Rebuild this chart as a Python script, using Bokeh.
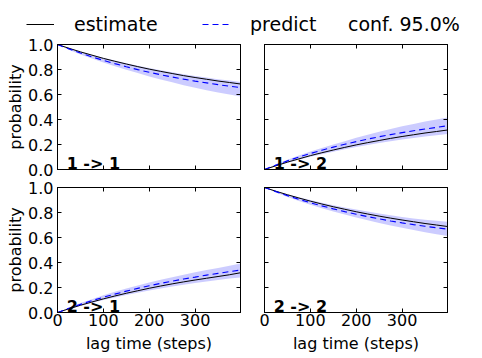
from bokeh.plotting import figure
from bokeh.layouts import column, row
from bokeh.models import (Label, Legend, LegendItem, FixedTicker, LinearAxis,
                          Range1d, NumeralTickFormatter)
from bokeh.embed import file_html
from bokeh.resources import INLINE

FONT = "DejaVu Sans"

# ---------------- data ----------------
lags = [0, 25, 50, 75, 100, 125, 150, 175, 200, 225, 250, 275, 300, 325, 350, 375, 399]

est_11 = [1.000, 0.970, 0.941, 0.915, 0.889, 0.866, 0.844, 0.823, 0.803, 0.785, 0.768, 0.751, 0.736, 0.722, 0.708, 0.696, 0.684]
pred_11 = [1.000, 0.965, 0.932, 0.901, 0.873, 0.847, 0.822, 0.799, 0.778, 0.758, 0.740, 0.723, 0.707, 0.693, 0.679, 0.666, 0.655]
lo_11 = [1.000, 0.958, 0.921, 0.888, 0.856, 0.827, 0.799, 0.773, 0.745, 0.721, 0.698, 0.675, 0.654, 0.635, 0.616, 0.600, 0.584]
hi_11 = [1.000, 0.972, 0.944, 0.919, 0.894, 0.872, 0.851, 0.831, 0.812, 0.795, 0.779, 0.763, 0.749, 0.736, 0.723, 0.712, 0.700]

est_12 = [0.000, 0.030, 0.059, 0.085, 0.111, 0.134, 0.156, 0.177, 0.197, 0.215, 0.232, 0.249, 0.264, 0.278, 0.292, 0.304, 0.316]
pred_12 = [0.000, 0.035, 0.069, 0.100, 0.128, 0.154, 0.179, 0.202, 0.223, 0.243, 0.262, 0.279, 0.295, 0.310, 0.324, 0.337, 0.350]
lo_12 = [0.000, 0.027, 0.054, 0.078, 0.102, 0.123, 0.143, 0.162, 0.180, 0.197, 0.212, 0.226, 0.240, 0.252, 0.264, 0.275, 0.285]
hi_12 = [0.000, 0.042, 0.079, 0.112, 0.144, 0.173, 0.201, 0.227, 0.255, 0.279, 0.302, 0.325, 0.346, 0.365, 0.384, 0.400, 0.416]

est_21 = [0.000, 0.030, 0.058, 0.084, 0.109, 0.132, 0.154, 0.174, 0.194, 0.212, 0.229, 0.245, 0.260, 0.274, 0.288, 0.302, 0.318]
pred_21 = [0.000, 0.033, 0.065, 0.095, 0.122, 0.147, 0.171, 0.193, 0.214, 0.233, 0.251, 0.268, 0.283, 0.299, 0.313, 0.327, 0.340]
lo_21 = [0.000, 0.027, 0.053, 0.077, 0.100, 0.121, 0.141, 0.159, 0.176, 0.192, 0.208, 0.222, 0.236, 0.249, 0.261, 0.272, 0.280]
hi_21 = [0.000, 0.040, 0.076, 0.107, 0.138, 0.166, 0.192, 0.216, 0.240, 0.262, 0.283, 0.303, 0.322, 0.340, 0.357, 0.375, 0.392]

est_22 = [1.000, 0.970, 0.942, 0.916, 0.891, 0.868, 0.846, 0.826, 0.806, 0.788, 0.771, 0.755, 0.740, 0.726, 0.712, 0.700, 0.688]
pred_22 = [1.000, 0.967, 0.935, 0.905, 0.878, 0.853, 0.829, 0.807, 0.786, 0.767, 0.749, 0.732, 0.717, 0.703, 0.690, 0.678, 0.667]
lo_22 = [1.000, 0.960, 0.924, 0.893, 0.862, 0.834, 0.808, 0.784, 0.760, 0.738, 0.717, 0.697, 0.678, 0.660, 0.643, 0.627, 0.612]
hi_22 = [1.000, 0.973, 0.947, 0.923, 0.900, 0.879, 0.859, 0.841, 0.824, 0.808, 0.792, 0.778, 0.764, 0.753, 0.743, 0.734, 0.726]

x_ticks = [0, 100, 200, 300]
y_ticks = [0.0, 0.2, 0.4, 0.6, 0.8, 1.0]
x_max = 399
panel_names = ["1 -> 1", "1 -> 2", "2 -> 1", "2 -> 2"]
legend_labels = ["estimate", "predict", "conf. 95.0%"]


def style_axis(ax, ticks, show_labels, fmt=None, standoff=0):
    ax.ticker = FixedTicker(ticks=ticks)
    ax.major_tick_in = 4
    ax.major_tick_out = 0
    ax.minor_tick_in = 0
    ax.minor_tick_out = 0
    ax.major_tick_line_color = "black"
    ax.axis_line_color = "black"
    ax.major_label_text_font = FONT
    ax.major_label_text_color = "black"
    if fmt is not None:
        ax.formatter = NumeralTickFormatter(format=fmt)
    if show_labels:
        ax.major_label_text_font_size = "16px"
        ax.major_label_standoff = standoff
    else:
        ax.major_label_text_font_size = "0px"
        ax.major_label_text_alpha = 0
        ax.major_label_standoff = 0
    ax.axis_label_text_font = FONT
    ax.axis_label_text_font_size = "16px"
    ax.axis_label_text_font_style = "normal"
    ax.axis_label_text_color = "black"


def make_panel(est, pred, lo, hi, name, left_labels, bottom_labels,
               width, height, bl, br, bt, bb):
    p = figure(width=width, height=height, output_backend="svg", toolbar_location=None,
               x_range=Range1d(0, x_max), y_range=Range1d(0, 1),
               x_axis_type=None, y_axis_type=None,
               min_border_left=bl, min_border_right=br,
               min_border_top=bt, min_border_bottom=bb)
    p.outline_line_color = "black"
    p.outline_line_width = 1
    p.outline_line_alpha = 1
    p.background_fill_color = "white"
    p.border_fill_color = "white"

    p.varea(x=lags, y1=lo, y2=hi, fill_color="#0000ff", fill_alpha=0.2)
    p.line(lags, est, line_color="black", line_width=1)
    p.line(lags, pred, line_color="#0000ff", line_width=1.1, line_dash="6 4")

    xb = LinearAxis()
    style_axis(xb, x_ticks, bottom_labels, standoff=1)
    if bottom_labels:
        xb.axis_label = "lag time (steps)"
        xb.axis_label_standoff = 5
    p.add_layout(xb, "below")

    yl = LinearAxis()
    style_axis(yl, y_ticks, left_labels, fmt="0.0", standoff=4)
    if left_labels:
        yl.axis_label = "probability"
        yl.axis_label_standoff = 0
    p.add_layout(yl, "left")

    xa = LinearAxis()
    style_axis(xa, x_ticks, False)
    p.add_layout(xa, "above")
    yr = LinearAxis()
    style_axis(yr, y_ticks, False)
    p.add_layout(yr, "right")

    p.add_layout(Label(x=0.05 * x_max, y=0.05, text=name, text_font=FONT,
                       text_font_size="16px", text_font_style="bold",
                       text_color="black", text_baseline="alphabetic"))
    return p


f11 = make_panel(est_11, pred_11, lo_11, hi_11, panel_names[0], True, False, 250, 142, 57, 10, 8, 9)
f12 = make_panel(est_12, pred_12, lo_12, hi_12, panel_names[1], False, False, 232, 142, 14, 35, 8, 9)
f21 = make_panel(est_21, pred_21, lo_21, hi_21, panel_names[2], True, True, 250, 180, 57, 10, 9, 46)
f22 = make_panel(est_22, pred_22, lo_22, hi_22, panel_names[3], False, True, 232, 180, 14, 35, 9, 46)

# ---------------- legend strip ----------------
leg = figure(width=482, height=36, output_backend="svg", toolbar_location=None,
             x_range=Range1d(0, 1), y_range=Range1d(0, 1),
             x_axis_type=None, y_axis_type=None,
             min_border_left=0, min_border_right=0, min_border_top=0, min_border_bottom=0)
leg.outline_line_color = None
leg.background_fill_color = "white"
leg.border_fill_color = "white"
# sample renderers kept outside the visible range: only their legend swatches show
r_est = leg.line(x=[-5, -4], y=[-5, -4], line_color="black", line_width=1)
r_pred = leg.line(x=[-5, -4], y=[-5, -4], line_color="#0000ff", line_width=1.1, line_dash="6 4")
r_conf = leg.varea(x=[-5, -4], y1=[-5, -5], y2=[-4, -4], fill_color="#0000ff", fill_alpha=0.0)

for r, lab, xloc in [(r_est, legend_labels[0], 26), (r_pred, legend_labels[1], 202),
                     (r_conf, legend_labels[2], 300)]:
    lg = Legend(items=[LegendItem(label=lab, renderers=[r])], location=(xloc, 1),
                orientation="horizontal", padding=0, margin=0, spacing=0,
                glyph_width=28, glyph_height=20, label_height=20, label_standoff=20,
                label_text_font=FONT, label_text_font_size="19px", label_text_color="black",
                border_line_alpha=0, background_fill_alpha=0)
    leg.add_layout(lg, "center")

layout = column(leg, row(f11, f12), row(f21, f22))

with open("out.html", "w") as fh:
    fh.write(file_html(layout, INLINE))
